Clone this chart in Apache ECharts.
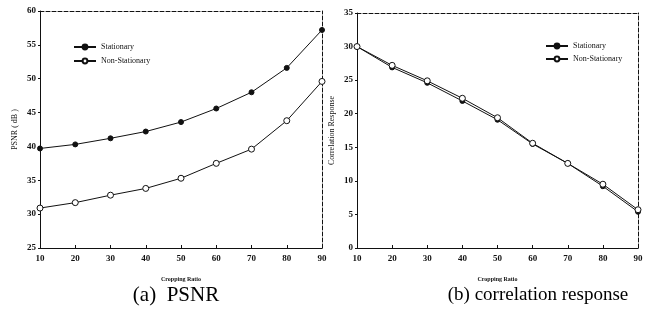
<!DOCTYPE html>
<html>
<head>
<meta charset="utf-8">
<script src="https://cdn.jsdelivr.net/npm/echarts@6/dist/echarts.min.js"></script>
<style>
html,body{margin:0;padding:0;background:#fff;}
#chart{width:647px;height:320px;}
</style>
</head>
<body>
<div id="chart"></div>
<script>
// Data
var ratios = [10, 20, 30, 40, 50, 60, 70, 80, 90];
var psnrStationary = [39.7, 40.3, 41.2, 42.2, 43.6, 45.6, 48.0, 51.6, 57.2];
var psnrNonStationary = [30.9, 31.7, 32.8, 33.8, 35.3, 37.5, 39.6, 43.8, 49.6];
var corrStationary = [30.0, 26.9, 24.6, 21.9, 19.1, 15.5, 12.6, 9.2, 5.4];
var corrNonStationary = [30.0, 27.2, 24.9, 22.3, 19.4, 15.6, 12.6, 9.5, 5.7];
var seriesNames = ['Stationary', 'Non-Stationary'];
var captions = ['(a)  PSNR', '(b) correlation response'];
var yNames = ['PSNR ( dB )', 'Correlation Response'];
var xName = 'Cropping Ratio';

function pairs(xs, ys) { return xs.map(function (x, i) { return [x, ys[i]]; }); }

var FONT = 'Liberation Serif';
var labelStyle = { fontFamily: FONT, fontSize: 9, fontWeight: 'bold', color: '#111' };

function mainX(gi) {
  return {
    type: 'value', gridIndex: gi, min: 10, max: 90, interval: 10,
    name: xName, nameLocation: 'middle', nameGap: 28,
    nameTextStyle: { fontFamily: FONT, fontSize: 6, fontWeight: 'bold', color: '#111' },
    axisLine: { show: true, onZero: false, lineStyle: { color: '#111', width: 1 } },
    axisTick: { show: true, inside: true, length: 3, lineStyle: { color: '#111' } },
    axisLabel: Object.assign({ margin: 6 }, labelStyle),
    splitLine: { show: false }
  };
}
function topX(gi) {
  return {
    type: 'value', gridIndex: gi, position: 'top', min: 10, max: 90, interval: 10,
    axisLine: { show: true, onZero: false, lineStyle: { color: '#111', width: 1, type: [4, 2] } },
    axisTick: { show: false }, axisLabel: { show: false }, splitLine: { show: false }
  };
}
function mainY(gi, min, max, name) {
  return {
    type: 'value', gridIndex: gi, min: min, max: max, interval: 5,
    name: name, nameLocation: 'middle', nameGap: 21,
    nameTextStyle: { fontFamily: FONT, fontSize: 8, color: '#111' },
    axisLine: { show: true, onZero: false, lineStyle: { color: '#111', width: 1 } },
    axisTick: { show: true, inside: false, length: 2, lineStyle: { color: '#111' } },
    axisLabel: Object.assign({ margin: 4 }, labelStyle),
    splitLine: { show: false }
  };
}
function rightY(gi, min, max) {
  return {
    type: 'value', gridIndex: gi, position: 'right', min: min, max: max, interval: 5,
    axisLine: { show: true, onZero: false, lineStyle: { color: '#111', width: 1, type: [4, 2] } },
    axisTick: { show: false }, axisLabel: { show: false }, splitLine: { show: false }
  };
}
function lineSeries(name, data, xi, yi, filled) {
  return {
    type: 'line', name: name, xAxisIndex: xi, yAxisIndex: yi, data: data,
    symbol: 'circle', symbolSize: filled ? 5 : 6,
    itemStyle: { color: filled ? '#111' : '#fff', borderColor: '#111', borderWidth: 1 },
    lineStyle: { color: '#111', width: 1 },
    emphasis: { disabled: true }, animation: false
  };
}

var chart = echarts.init(document.getElementById('chart'), null, { renderer: 'canvas' });
chart.setOption({
  backgroundColor: '#fff',
  animation: false,
  grid: [
    { left: 40, right: 325, top: 11, bottom: 72 },
    { left: 357, right: 9, top: 13, bottom: 72 }
  ],
  title: [
    { text: captions[0], left: 171, top: 280, textAlign: 'center',
      textStyle: { fontFamily: FONT, fontSize: 21, fontWeight: 'normal', color: '#000' } },
    { text: captions[1], left: 533, top: 281, textAlign: 'center',
      textStyle: { fontFamily: FONT, fontSize: 19, fontWeight: 'normal', color: '#000' } }
  ],
  legend: [
    { data: seriesNames.map(function (n) { return n; }), orient: 'vertical', left: 68, top: 37,
      itemWidth: 22, itemHeight: 6, itemGap: 4,
      textStyle: { fontFamily: FONT, fontSize: 8, lineHeight: 10, color: '#111' } },
    { data: seriesNames.map(function (n) { return n + ' '; }), orient: 'vertical', left: 540, top: 36,
      itemWidth: 22, itemHeight: 6, itemGap: 3,
      textStyle: { fontFamily: FONT, fontSize: 8, lineHeight: 10, color: '#111' } }
  ],
  xAxis: [mainX(0), topX(0), mainX(1), topX(1)],
  yAxis: [mainY(0, 25, 60, yNames[0]), rightY(0, 25, 60), mainY(1, 0, 35, yNames[1]), rightY(1, 0, 35)],
  series: [
    lineSeries(seriesNames[0], pairs(ratios, psnrStationary), 0, 0, true),
    lineSeries(seriesNames[1], pairs(ratios, psnrNonStationary), 0, 0, false),
    lineSeries(seriesNames[0] + ' ', pairs(ratios, corrStationary), 2, 2, true),
    lineSeries(seriesNames[1] + ' ', pairs(ratios, corrNonStationary), 2, 2, false)
  ]
});
</script>
</body>
</html>
